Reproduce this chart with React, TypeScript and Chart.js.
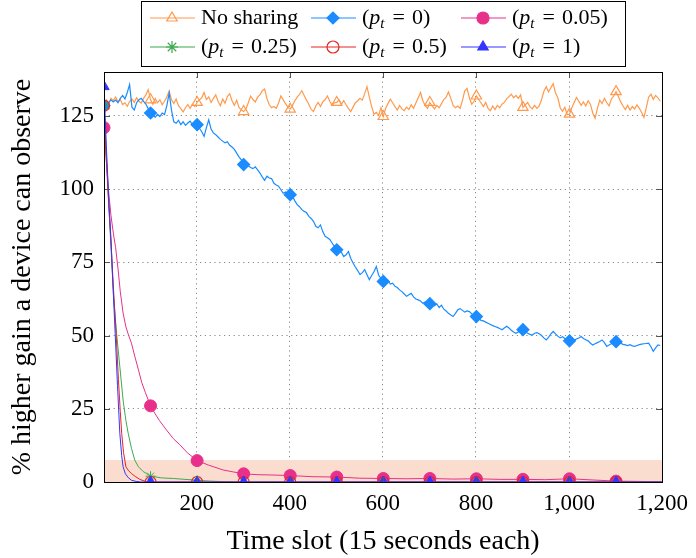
import React, { useEffect, useRef } from "react";
import { Chart, registerables } from "chart.js";
import { drawPoint } from "chart.js/helpers";

Chart.register(...registerables);

// ---------- data ----------
// time slots sampled every 5 slots (1, 6, 11, ... 1196)
const slots5 = Array.from({ length: 240 }, (_, i) => 1 + 5 * i);

const noSharing = [
  128.5, 130.5, 129.2, 131.0, 130.2, 131.5, 129.8, 130.6, 128.9, 129.5, 128.3, 129.9, 130.8, 129.6, 131.2, 130.0, 129.4, 131.0, 132.2, 134.0,
  130.5, 129.0, 131.0, 129.5, 130.5, 128.8, 130.0, 131.5, 133.5, 130.5, 129.2, 130.8, 128.5, 127.5, 126.4, 127.8, 128.9, 127.6, 129.0, 128.2,
  129.6, 130.5, 131.2, 133.0, 130.6, 131.5, 129.6, 131.0, 132.2, 130.0, 128.5, 130.8, 129.3, 131.6, 132.6, 130.2, 128.6, 130.4, 127.9, 127.0,
  126.5, 127.4, 129.5, 131.8, 130.6, 129.8, 131.4, 132.2, 133.6, 134.2, 131.0, 128.8, 127.8, 128.2, 127.6, 129.4, 131.8, 130.5, 129.2, 128.0,
  127.3, 128.6, 130.2, 131.4, 132.4, 133.6, 132.0, 130.4, 129.0, 127.2, 126.5, 128.4, 129.6, 128.2, 129.8, 130.6, 131.8, 130.0, 128.6, 129.5,
  129.6, 130.5, 129.0, 130.2, 128.8, 127.6, 126.5, 128.0, 129.5, 130.2, 131.0, 130.4, 132.6, 135.0, 131.4, 128.2, 125.6, 126.2, 125.2, 127.8,
  124.8, 127.6, 129.2, 130.7, 129.5, 128.2, 127.0, 128.6, 127.4, 126.8, 128.0, 127.2, 128.8, 127.6, 129.4, 131.2, 133.0, 130.2, 128.5, 127.6,
  129.6, 128.4, 127.4, 128.6, 127.8, 129.2, 130.6, 131.4, 133.2, 131.0, 128.6, 127.8, 128.4, 127.6, 130.2, 133.6, 134.4, 131.2, 129.0, 130.0,
  131.8, 130.6, 129.4, 128.2, 129.6, 127.6, 126.8, 128.4, 127.2, 128.6, 127.8, 129.0, 129.6, 130.8, 131.6, 132.4, 131.2, 132.0, 131.0, 132.2,
  127.9, 128.8, 129.6, 128.2, 127.4, 128.6, 127.6, 128.4, 130.6, 133.4, 135.0, 133.2, 134.6, 136.0, 132.8, 131.2, 127.8, 126.6, 128.0, 125.4,
  125.6, 127.8, 129.6, 131.3, 130.0, 128.6, 129.8, 128.4, 130.2, 129.0, 126.0, 124.2, 127.6, 130.4, 129.2, 131.0, 129.6, 128.4, 130.8, 131.8,
  133.3, 131.6, 129.8, 128.4, 127.2, 128.6, 127.0, 128.2, 127.4, 128.8, 127.6, 126.2, 124.5, 127.8, 131.4, 132.4, 130.6, 132.0, 131.2, 130.0,
];

const pt0 = [
  128.5, 127.5, 129.5, 130.5, 129.8, 130.4, 129.5, 131.0, 132.0, 130.8, 133.0, 135.7, 128.0, 127.0, 129.5, 130.5, 131.0, 130.0, 129.0, 127.5,
  126.0, 125.5, 124.5, 125.5, 124.8, 126.0, 125.5, 128.5, 132.8, 127.0, 123.0, 122.5, 123.5, 122.0, 123.0, 121.8, 122.6, 123.2, 122.0, 121.6,
  122.0, 120.8, 119.6, 118.0, 121.0, 123.7, 120.5, 119.2, 118.6, 117.8, 117.0, 116.4, 115.8, 116.2, 115.0, 114.4, 113.6, 112.3, 111.0, 110.0,
  108.4, 108.8, 108.0, 107.4, 107.0, 107.6, 106.6, 105.5, 104.2, 103.0, 104.4, 103.8, 103.6, 102.0, 101.4, 101.0, 99.8, 98.6, 99.0, 97.6,
  98.1, 97.5, 96.0, 94.7, 94.0, 93.0, 92.4, 92.0, 90.7, 90.0, 89.0, 87.3, 86.8, 87.8, 85.5, 83.9, 83.4, 82.8, 81.6, 80.4,
  79.3, 78.8, 78.5, 77.0, 77.6, 78.7, 76.4, 74.8, 73.4, 72.2, 70.8, 71.5, 72.5, 70.8, 69.1, 70.5, 71.8, 73.6, 70.6, 69.5,
  68.5, 68.2, 68.8, 67.6, 67.9, 66.8, 66.4, 65.6, 65.0, 64.2, 63.4, 63.9, 64.4, 63.2, 62.5, 62.2, 61.8, 61.0, 61.5, 61.2,
  60.9, 61.4, 60.2, 60.8, 59.6, 60.4, 59.0, 58.4, 57.6, 57.0, 56.5, 57.6, 58.8, 59.2, 58.6, 58.0, 58.4, 58.2, 57.4, 56.8,
  56.5, 55.8, 55.2, 55.0, 54.6, 54.2, 53.8, 53.4, 53.1, 52.8, 52.4, 52.0, 52.6, 53.2, 52.6, 51.8, 51.2, 50.8, 51.2, 51.8,
  52.0, 51.4, 50.8, 50.4, 50.2, 50.8, 51.0, 50.6, 50.0, 49.2, 48.5, 49.4, 50.6, 51.4, 50.6, 49.8, 49.2, 49.6, 49.0, 48.4,
  48.2, 48.0, 48.4, 48.8, 49.2, 49.7, 49.0, 48.6, 48.2, 47.4, 46.8, 47.2, 47.6, 48.0, 48.5, 47.6, 46.3, 46.8, 47.2, 47.6,
  47.9, 48.0, 47.4, 47.0, 46.8, 46.6, 46.9, 46.5, 46.3, 46.6, 46.9, 47.1, 47.2, 47.3, 47.4, 46.2, 44.6, 45.8, 46.8, 46.6,
];

const pt005Slots = [1, 6, 11, 16, 21, 26, 31, 36, 42, 48, 54, 60, 67, 75, 82, 90, 101, 110, 120, 135, 150, 164, 180, 201, 225, 257, 280, 301, 330, 360, 401, 450, 501, 550, 601, 650, 701, 750, 801, 850, 901, 950, 1001, 1050, 1101, 1150, 1200];
const pt005 = [121, 110, 99, 91, 85, 80, 73, 65, 57.7, 53, 50, 47.4, 43, 38.3, 34, 30.5, 26, 23.5, 21, 17.8, 14.8, 12.7, 10, 7.3, 5.8, 4.1, 3.4, 2.8, 2.5, 2.4, 2.2, 1.8, 1.7, 1.3, 1.2, 1.1, 1.2, 1.0, 1.1, 0.9, 0.9, 0.8, 1.1, 0.7, 0.3, 0.2, 0.0];

const pt025Slots = [1, 6, 11, 16, 22, 28, 35, 42, 48, 53, 60, 67, 75, 85, 92, 101, 125, 150, 175, 201, 230, 260, 301, 401, 501, 601, 701, 801, 901, 1001, 1101, 1200];
const pt025 = [128.5, 112, 96, 80, 62.2, 50.8, 39.4, 28, 21, 16.6, 11.5, 7.5, 5.2, 3.6, 2.9, 2.0, 1.4, 1.2, 0.9, 0.6, 0.3, 0.1, 0, 0, 0, 0, 0, 0, 0, 0, 0, 0];

const pt05Slots = [1, 6, 11, 16, 21, 27, 32, 36, 39, 43, 48, 54, 60, 68, 78, 88, 101, 201, 301, 401, 501, 601, 701, 801, 901, 1001, 1101, 1200];
const pt05 = [128.5, 110, 95, 82, 67, 50.8, 35, 24, 16.6, 10, 5.2, 3.8, 2.9, 1.9, 0.9, 0.3, 0, 0, 0, 0, 0, 0, 0, 0, 0, 0, 0, 0];

const pt1Slots = [1, 6, 11, 16, 20, 25, 30, 35, 39, 42, 47, 53, 60, 70, 80, 101, 201, 301, 401, 501, 601, 701, 801, 901, 1001, 1101, 1200];
const pt1 = [135, 115, 97, 83, 68, 50.8, 33, 16.6, 9, 5.2, 2.8, 1.5, 0.6, 0.2, 0, 0, 0, 0, 0, 0, 0, 0, 0, 0, 0, 0, 0];

const xTicks = [200, 400, 600, 800, 1000, 1200];
const yTicks = [0, 25, 50, 75, 100, 125];
const bandTop = 7.5;

// ---------- styling ----------
const SERIF = '"Liberation Serif", "Times New Roman", serif';

type Part = [string, "n" | "i" | "s" | "g"];
const EQ: Part[] = [["=", "g"]];
const legendItems: { ds: number; col: number; row: number; parts: Part[] }[] = [
  { ds: 0, col: 0, row: 0, parts: [["No sharing", "n"]] },
  { ds: 1, col: 1, row: 0, parts: [["(", "n"], ["p", "i"], ["t", "s"], ...EQ, ["0)", "n"]] },
  { ds: 2, col: 2, row: 0, parts: [["(", "n"], ["p", "i"], ["t", "s"], ...EQ, ["0.05)", "n"]] },
  { ds: 3, col: 0, row: 1, parts: [["(", "n"], ["p", "i"], ["t", "s"], ...EQ, ["0.25)", "n"]] },
  { ds: 4, col: 1, row: 1, parts: [["(", "n"], ["p", "i"], ["t", "s"], ...EQ, ["0.5)", "n"]] },
  { ds: 5, col: 2, row: 1, parts: [["(", "n"], ["p", "i"], ["t", "s"], ...EQ, ["1)", "n"]] },
];
const legendCols = [150, 311, 461];
const legendRows = [18, 47];

const markerAt = (r: number) => (c: any) => {
  const raw = c.raw;
  return raw && (raw.x - 1) % 100 === 0 ? r : 0;
};

const toPoints = (xs: number[], ys: number[]) => xs.map((x, i) => ({ x, y: ys[i] }));

const bandPlugin = {
  id: "band",
  beforeDatasetsDraw(chart: any) {
    const { ctx, chartArea, scales } = chart;
    const yTop = scales.y.getPixelForValue(bandTop);
    const yBot = scales.y.getPixelForValue(0);
    ctx.save();
    ctx.fillStyle = "#FBDDCF";
    ctx.fillRect(chartArea.left, yTop, chartArea.right - chartArea.left, yBot - yTop);
    ctx.restore();
  },
};

const framePlugin = {
  id: "frame",
  afterDatasetsDraw(chart: any) {
    const { ctx, chartArea, scales } = chart;
    const { left, right, top, bottom } = chartArea;
    ctx.save();
    ctx.strokeStyle = "#555";
    ctx.lineWidth = 1;
    ctx.beginPath();
    xTicks.forEach((v) => {
      const x = Math.round(scales.x.getPixelForValue(v)) + 0.5;
      ctx.moveTo(x, top);
      ctx.lineTo(x, top + 6);
      ctx.moveTo(x, bottom);
      ctx.lineTo(x, bottom - 6);
    });
    yTicks.forEach((v) => {
      const y = Math.round(scales.y.getPixelForValue(v)) + 0.5;
      ctx.moveTo(left, y);
      ctx.lineTo(left + 6, y);
      ctx.moveTo(right, y);
      ctx.lineTo(right - 6, y);
    });
    ctx.stroke();
    ctx.strokeStyle = "#000";
    ctx.lineWidth = 1;
    ctx.strokeRect(Math.round(left) + 0.5, Math.round(top) + 0.5, Math.round(right - left), Math.round(bottom - top));
    ctx.restore();
  },
};

const legendPlugin = {
  id: "mathLegend",
  afterDraw(chart: any) {
    const ctx = chart.ctx;
    ctx.save();
    ctx.fillStyle = "#fff";
    ctx.fillRect(141.5, 1.5, 484, 65);
    ctx.strokeStyle = "#000";
    ctx.lineWidth = 1;
    ctx.strokeRect(141.5, 1.5, 484, 65);
    legendItems.forEach((it) => {
      const ds = chart.data.datasets[it.ds];
      const x0 = legendCols[it.col];
      const y = legendRows[it.row];
      ctx.strokeStyle = ds.borderColor;
      ctx.lineWidth = 1.2;
      ctx.beginPath();
      ctx.moveTo(x0, y);
      ctx.lineTo(x0 + 45, y);
      ctx.stroke();
      ctx.fillStyle = ds.pointBackgroundColor;
      ctx.strokeStyle = ds.pointBorderColor;
      ctx.lineWidth = 1.2;
      drawPoint(ctx, { pointStyle: ds.pointStyle, radius: ds.legendRadius, rotation: 0, borderWidth: 1.2 } as any, x0 + 22, y);
      let x = x0 + 51;
      ctx.fillStyle = "#000";
      ctx.textBaseline = "alphabetic";
      ctx.textAlign = "left";
      it.parts.forEach(([txt, st]) => {
        let dy = 6;
        if (st === "n") ctx.font = `22px ${SERIF}`;
        else if (st === "i") ctx.font = `italic 22px ${SERIF}`;
        else if (st === "s") {
          ctx.font = `italic 15px ${SERIF}`;
          dy = 10;
        } else {
          ctx.font = `22px ${SERIF}`;
          x += 7;
        }
        ctx.fillText(txt, x, y + dy);
        x += ctx.measureText(txt).width + (st === "s" ? 1 : 0) + (st === "g" ? 7 : 0);
      });
    });
    ctx.restore();
  },
};

export default function App() {
  const ref = useRef<HTMLCanvasElement | null>(null);

  useEffect(() => {
    document.body.style.margin = "0";
    const canvas = ref.current;
    if (!canvas) return;
    const common = { borderWidth: 1, fill: false, tension: 0, pointHoverRadius: 0 };
    const chart = new Chart(canvas, {
      type: "line",
      data: {
        datasets: [
          {
            ...common,
            label: "No sharing",
            data: toPoints(slots5, noSharing),
            borderColor: "#FF9A4D",
            borderWidth: 1.2,
            pointStyle: "triangle",
            pointRadius: markerAt(6),
            pointBackgroundColor: "rgba(255,255,255,0)",
            pointBorderColor: "#FF9A4D",
            pointBorderWidth: 1.2,
            legendRadius: 6,
            order: 5,
          },
          {
            ...common,
            label: "(p_t = 0)",
            data: toPoints(slots5, pt0),
            borderColor: "#1A8CFF",
            borderWidth: 1.2,
            pointStyle: "rectRot",
            pointRadius: markerAt(6),
            pointBackgroundColor: "#1A8CFF",
            pointBorderColor: "#1A8CFF",
            legendRadius: 6,
            order: 4,
          },
          {
            ...common,
            label: "(p_t = 0.05)",
            data: toPoints(pt005Slots, pt005),
            borderColor: "#E8308A",
            pointStyle: "circle",
            pointRadius: markerAt(6),
            pointBackgroundColor: "#E8308A",
            pointBorderColor: "#E8308A",
            legendRadius: 6,
            order: 3,
          },
          {
            ...common,
            label: "(p_t = 0.25)",
            data: toPoints(pt025Slots, pt025),
            borderColor: "#3DAA50",
            pointStyle: "star",
            pointRadius: markerAt(5),
            pointBackgroundColor: "#3DAA50",
            pointBorderColor: "#3DAA50",
            legendRadius: 6,
            order: 2,
          },
          {
            ...common,
            label: "(p_t = 0.5)",
            data: toPoints(pt05Slots, pt05),
            borderColor: "#E82222",
            pointStyle: "circle",
            pointRadius: markerAt(5.5),
            pointBackgroundColor: "rgba(255,255,255,0)",
            pointBorderColor: "#E82222",
            pointBorderWidth: 1.2,
            legendRadius: 6,
            order: 1,
          },
          {
            ...common,
            label: "(p_t = 1)",
            data: toPoints(pt1Slots, pt1),
            borderColor: "#3535FF",
            pointStyle: "triangle",
            pointRadius: markerAt(6),
            pointBackgroundColor: "#3535FF",
            pointBorderColor: "#3535FF",
            legendRadius: 6,
            order: 0,
          },
        ] as any,
      },
      options: {
        animation: false,
        responsive: false,
        devicePixelRatio: 1,
        layout: { padding: { top: 72, right: 32, left: 0, bottom: 0 } },
        plugins: { legend: { display: false }, tooltip: { enabled: false } },
        scales: {
          x: {
            type: "linear",
            min: 1,
            max: 1200,
            afterBuildTicks: (s: any) => {
              s.ticks = xTicks.map((v) => ({ value: v }));
            },
            afterFit: (s: any) => {
              s.height = 76;
            },
            grid: { color: "#8a8a8a", lineWidth: 1, drawTicks: false },
            border: { display: false, dash: [1.2, 3.6] },
            ticks: {
              color: "#000",
              font: { family: SERIF, size: 23 },
              padding: 8,
              maxRotation: 0,
              autoSkip: false,
              callback: (v: any) => Number(v).toLocaleString("en-US"),
            },
            title: {
              display: true,
              text: "Time slot (15 seconds each)",
              color: "#000",
              font: { family: SERIF, size: 28 },
              padding: { top: 4, bottom: 0 },
            },
          },
          y: {
            type: "linear",
            min: 0,
            max: 140,
            afterBuildTicks: (s: any) => {
              s.ticks = yTicks.map((v) => ({ value: v }));
            },
            afterFit: (s: any) => {
              s.width = 104;
            },
            grid: { color: "#8a8a8a", lineWidth: 1, drawTicks: false },
            border: { display: false, dash: [1.2, 3.6] },
            ticks: {
              color: "#000",
              font: { family: SERIF, size: 23 },
              padding: 10,
              autoSkip: false,
            },
            title: {
              display: true,
              text: "% higher gain a device can observe",
              color: "#000",
              font: { family: SERIF, size: 28 },
              padding: { top: 6, bottom: 6 },
            },
          },
        },
      } as any,
      plugins: [bandPlugin, framePlugin, legendPlugin],
    });
    return () => chart.destroy();
  }, []);

  return (
    <div style={{ width: 696, height: 558 }}>
      <canvas ref={ref} width={696} height={558} style={{ display: "block", width: 696, height: 558 }} />
    </div>
  );
}
